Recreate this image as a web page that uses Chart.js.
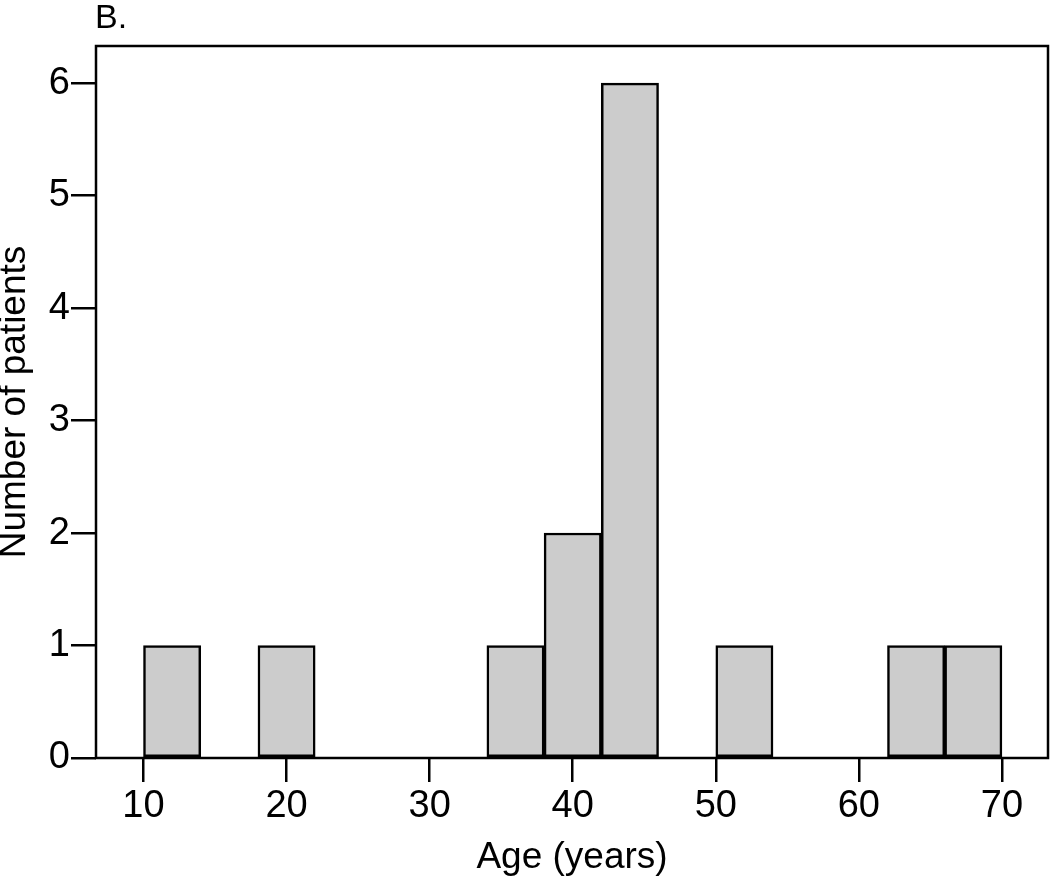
<!DOCTYPE html>
<html>
<head>
<meta charset="utf-8">
<script src="https://cdn.jsdelivr.net/npm/chart.js@4"></script>
<style>
  html, body { margin: 0; padding: 0; background: #fff; }
  #wrap { width: 1050px; height: 880px; }
</style>
</head>
<body>
<div id="wrap"><canvas id="ageChart" width="1050" height="880"></canvas></div>
<script>
// Середины интервалов (ширина интервала 4 года)
const binCenters = [12, 20, 36, 40, 44, 52, 64, 68];
// Число пациентов в каждом интервале
const patientCounts = [1, 1, 1, 2, 6, 1, 1, 1];
// Подписи осей
const xTicks = [10, 20, 30, 40, 50, 60, 70];
const yTicks = [0, 1, 2, 3, 4, 5, 6];

const fontFamily = 'Arial, "Liberation Sans", Helvetica, sans-serif';

// Рамка вокруг области графика и подпись "B."
const framePlugin = {
    id: 'frame',
    afterDraw(chart) {
        const a = chart.chartArea;
        const ctx = chart.ctx;
        ctx.save();
        ctx.strokeStyle = '#000';
        ctx.lineWidth = 2.5;
        ctx.strokeRect(a.left, a.top, a.right - a.left, a.bottom - a.top);
        ctx.fillStyle = '#000';
        ctx.font = '34px ' + fontFamily;
        ctx.textAlign = 'left';
        ctx.textBaseline = 'alphabetic';
        ctx.fillText('B.', a.left - 1, 28);
        ctx.restore();
    }
};

window.onload = function() {
    const ctx = document.getElementById('ageChart').getContext('2d');
    new Chart(ctx, {
        type: 'bar',
        data: {
            datasets: [{
                data: binCenters.map((x, i) => ({ x: x, y: patientCounts[i] })),
                backgroundColor: '#cccccc',
                borderColor: '#000',
                borderWidth: 2.5,
                borderSkipped: false,
                barPercentage: 1.0,
                categoryPercentage: 1.0
            }]
        },
        options: {
            responsive: false,
            animation: false,
            layout: { padding: { top: 46, right: 2, left: 0, bottom: 0 } },
            plugins: {
                legend: { display: false },
                tooltip: { enabled: false }
            },
            scales: {
                x: {
                    type: 'linear',
                    offset: false,
                    min: 6.68,
                    max: 73.22,
                    afterBuildTicks: s => { s.ticks = xTicks.map(v => ({ value: v })); },
                    afterFit: s => { s.height = 880 - 758; },
                    border: { display: false },
                    grid: {
                        offset: false,
                        drawOnChartArea: false,
                        drawTicks: true,
                        tickLength: 24,
                        color: '#000',
                        lineWidth: 2.5
                    },
                    ticks: {
                        color: '#000',
                        padding: 2,
                        maxRotation: 0,
                        font: { family: fontFamily, size: 38 }
                    },
                    title: {
                        display: true,
                        text: 'Age (years)',
                        color: '#000',
                        font: { family: fontFamily, size: 37, lineHeight: 1.0 },
                        padding: { top: 0, bottom: 4 }
                    }
                },
                y: {
                    min: 0,
                    max: 6.33,
                    afterBuildTicks: s => { s.ticks = yTicks.map(v => ({ value: v })); },
                    afterFit: s => { s.width = 96; },
                    border: { display: false },
                    grid: {
                        drawOnChartArea: false,
                        drawTicks: true,
                        tickLength: 25,
                        color: '#000',
                        lineWidth: 2.5
                    },
                    ticks: {
                        color: '#000',
                        padding: 1,
                        font: { family: fontFamily, size: 38 }
                    },
                    title: {
                        display: true,
                        text: 'Number of patients',
                        color: '#000',
                        font: { family: fontFamily, size: 37, lineHeight: 1.0 },
                        padding: { top: -4, bottom: 0 }
                    }
                }
            }
        },
        plugins: [framePlugin]
    });
};
</script>
</body>
</html>
